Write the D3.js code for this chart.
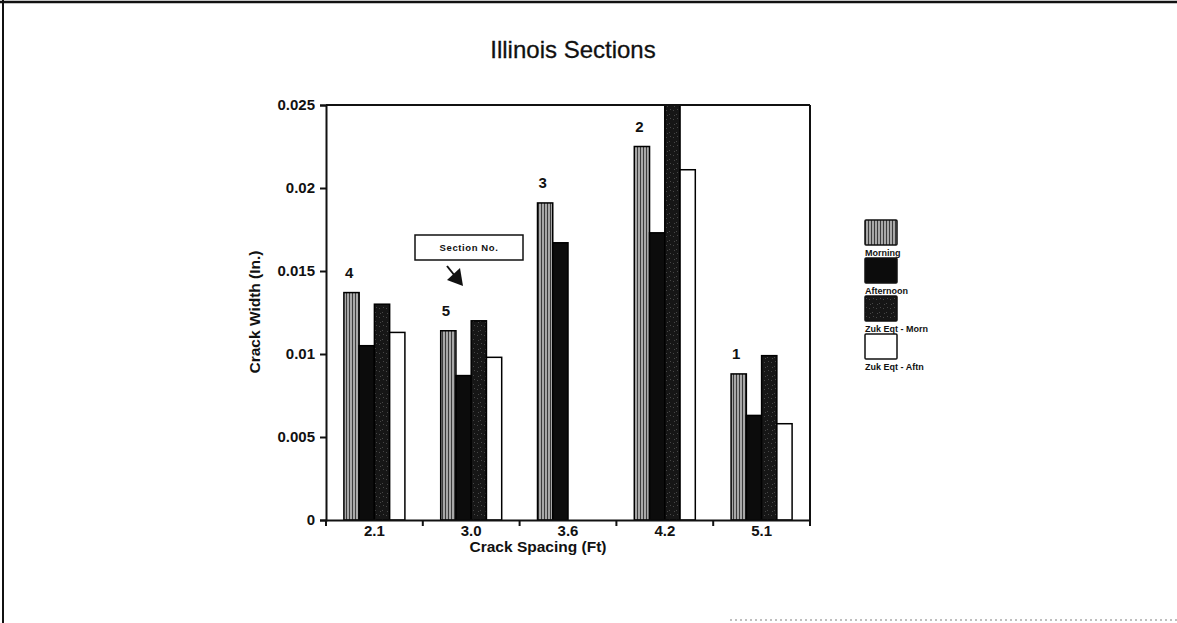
<!DOCTYPE html>
<html><head><meta charset="utf-8">
<script src="https://cdn.jsdelivr.net/npm/d3@7"></script>
<style>body{margin:0;background:#fff}svg{display:block}text{font-family:"Liberation Sans",Arial,Helvetica,sans-serif}</style>
</head><body><svg id="c" width="1177" height="623"></svg>
<script>
const categories = ["2.1", "3.0", "3.6", "4.2", "5.1"];
const sectionNos = ["4", "5", "3", "2", "1"];
const seriesNames = ["Morning", "Afternoon", "Zuk Eqt - Morn", "Zuk Eqt - Aftn"];
const morning   = [0.0137, 0.0114, 0.0191, 0.0225, 0.0088];
const afternoon = [0.0105, 0.0087, 0.0167, 0.0173, 0.0063];
const zukMorn   = [0.0130, 0.0120, null,   0.0250, 0.0099];
const zukAftn   = [0.0113, 0.0098, null,   0.0211, 0.0058];
const yTicks = [0, 0.005, 0.01, 0.015, 0.02, 0.025];
const yTickLabels = ["0", "0.005", "0.01", "0.015", "0.02", "0.025"];
const titleText = "Illinois Sections";
const xTitle = "Crack Spacing (Ft)";
const yTitle = "Crack Width (In.)";
const calloutText = "Section  No.";

const seriesValues = [morning, afternoon, zukMorn, zukAftn];
const svg = d3.select("#c");
const W = 1177, H = 623;
const m = {left: 326, right: 810, top: 105, bottom: 520};

// patterns
const defs = svg.append("defs");
const p1 = defs.append("pattern").attr("id", "pMorning").attr("patternUnits", "userSpaceOnUse").attr("width", 3).attr("height", 4);
p1.append("rect").attr("width", 3).attr("height", 4).attr("fill", "#a8a8a8");
p1.append("rect").attr("x", 1).attr("width", 1).attr("height", 4).attr("fill", "#3c3c3c");
const p3 = defs.append("pattern").attr("id", "pZuk").attr("patternUnits", "userSpaceOnUse").attr("width", 7).attr("height", 9);
p3.append("rect").attr("width", 7).attr("height", 9).attr("fill", "#161616");
[[1,2],[4,6],[5,1],[2,7]].forEach(([x,y]) => p3.append("rect").attr("x", x).attr("y", y).attr("width", 1).attr("height", 1).attr("fill", "#474747"));
const fills = ["url(#pMorning)", "#0c0c0c", "url(#pZuk)", "#ffffff"];

// outer frame
svg.append("line").attr("x1", 0).attr("x2", W).attr("y1", 2).attr("y2", 2).attr("stroke", "#111").attr("stroke-width", 2.5);
svg.append("line").attr("x1", 3).attr("x2", 3).attr("y1", 0).attr("y2", H).attr("stroke", "#111").attr("stroke-width", 2);
svg.append("line").attr("x1", 730).attr("x2", W).attr("y1", 620).attr("y2", 620).attr("stroke", "#aaa").attr("stroke-width", 1.5).attr("stroke-dasharray", "2,3");

const x0 = d3.scaleBand().domain(categories).range([m.left, m.right]).paddingInner(0).paddingOuter(0);
const groupW = 61;
const x1 = d3.scaleBand().domain(d3.range(seriesNames.length)).range([0, groupW]);
const y = d3.scaleLinear().domain([0, 0.025]).range([m.bottom, m.top]);

// title
svg.append("text").attr("x", 573).attr("y", 58).attr("text-anchor", "middle").attr("font-size", 24)
  .attr("fill", "#111").attr("stroke", "#111").attr("stroke-width", 0.3).text(titleText);

// bars
categories.forEach((c, i) => {
  const gx = x0(c) + (x0.bandwidth() - groupW) / 2;
  seriesValues.forEach((vals, s) => {
    const v = vals[i];
    if (v == null) return;
    svg.append("rect").attr("x", gx + x1(s)).attr("y", y(v)).attr("width", x1.bandwidth()).attr("height", y(0) - y(v))
      .attr("fill", fills[s]).attr("stroke", "#000").attr("stroke-width", 1.5);
  });
  svg.append("text").attr("x", gx + x1(0) + 1).attr("y", y(morning[i]) - 15).attr("font-size", 15).attr("font-weight", "bold").attr("fill", "#111").text(sectionNos[i]);
});

// frame top/right
svg.append("line").attr("x1", m.left).attr("x2", m.right).attr("y1", m.top).attr("y2", m.top).attr("stroke", "#111").attr("stroke-width", 2);
svg.append("line").attr("x1", m.right).attr("x2", m.right).attr("y1", m.top).attr("y2", m.bottom + 6).attr("stroke", "#111").attr("stroke-width", 2);

// y axis
const yAxis = d3.axisLeft(y).tickValues(yTicks).tickFormat((d, i) => yTickLabels[i]).tickSize(6).tickPadding(5);
const gy = svg.append("g").attr("transform", `translate(${m.left},0)`).call(yAxis);
gy.select(".domain").attr("stroke", "#111").attr("stroke-width", 2);
gy.selectAll(".tick line").attr("stroke", "#111").attr("stroke-width", 2);
gy.selectAll(".tick text").attr("font-size", 15).attr("font-weight", "bold").attr("fill", "#111").attr("font-family", '"Liberation Sans",Arial,sans-serif');

// x axis
const xAxis = d3.axisBottom(x0).tickSize(0).tickPadding(5);
const gx = svg.append("g").attr("transform", `translate(0,${m.bottom})`).call(xAxis);
gx.select(".domain").attr("stroke", "#111").attr("stroke-width", 2);
gx.selectAll(".tick text").attr("font-size", 15).attr("font-weight", "bold").attr("fill", "#111").attr("font-family", '"Liberation Sans",Arial,sans-serif');
gx.selectAll(".sep").data(categories).enter().append("line").attr("class", "sep")
  .attr("x1", d => x0(d)).attr("x2", d => x0(d)).attr("y1", 0).attr("y2", 6).attr("stroke", "#111").attr("stroke-width", 2);

// axis titles
svg.append("text").attr("x", 538).attr("y", 552).attr("text-anchor", "middle").attr("font-size", 15.5).attr("font-weight", "bold").attr("fill", "#111").text(xTitle);
svg.append("text").attr("transform", "translate(260,312) rotate(-90)").attr("text-anchor", "middle").attr("font-size", 15.5).attr("font-weight", "bold").attr("fill", "#111").text(yTitle);

// callout
svg.append("rect").attr("x", 415).attr("y", 235).attr("width", 108).attr("height", 25).attr("fill", "#fff").attr("stroke", "#111").attr("stroke-width", 1.5);
svg.append("text").attr("x", 469).attr("y", 251).attr("text-anchor", "middle").attr("font-size", 9.5).attr("font-weight", "bold").attr("letter-spacing", 0.6).attr("fill", "#111").text(calloutText);
svg.append("line").attr("x1", 447).attr("y1", 266).attr("x2", 455).attr("y2", 276).attr("stroke", "#111").attr("stroke-width", 2);
svg.append("path").attr("d", "M463,286 L447,280 L460,268 Z").attr("fill", "#111");

// legend
const lg = svg.append("g");
seriesNames.forEach((n, s) => {
  const ty = 220 + s * 38;
  lg.append("rect").attr("x", 865).attr("y", ty).attr("width", 32).attr("height", 25).attr("fill", fills[s]).attr("stroke", "#111").attr("stroke-width", 1.5).attr("rx", 1);
  lg.append("text").attr("x", 865).attr("y", ty + 36).attr("font-size", 9).attr("font-weight", "bold").attr("fill", "#111").text(n);
});
</script></body></html>
